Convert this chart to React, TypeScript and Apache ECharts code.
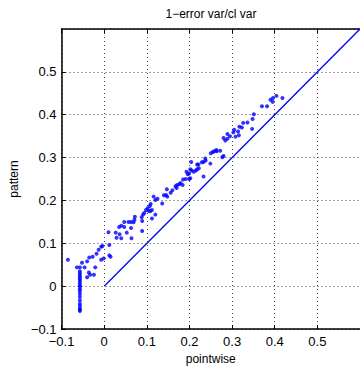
import { useEffect, useRef } from "react";
import * as echarts from "echarts";

// Axis range shared by both axes
const AXIS_MIN = -0.1;
const AXIS_MAX = 0.6;
const TICK_STEP = 0.1;

// Titles
const TITLE = "1\u2212error var/cl var";
const X_NAME = "pointwise";
const Y_NAME = "pattern";

// Stack of points sitting at a single pointwise value
const columnX = -0.057;
const columnY = [
  0.044, 0.035, 0.03, 0.025, 0.021, 0.016, 0.012, 0.007, 0.002, -0.002,
  -0.007, -0.012, -0.018, -0.025, -0.033, -0.041, -0.046, -0.052, -0.055,
  -0.058,
];

// Remaining (pointwise, pattern) pairs
const scatterPoints: [number, number][] = [
  [-0.085, 0.062], [-0.064, 0.044], [-0.052, 0.055], [-0.046, 0.044],
  [-0.04, 0.058], [-0.035, 0.067], [-0.027, 0.069], [-0.021, 0.044],
  [-0.036, 0.032], [-0.033, 0.027], [-0.04, 0.021], [-0.024, 0.027],
  [-0.018, 0.076], [-0.013, 0.085], [-0.007, 0.092], [-0.004, 0.094],
  [-0.007, 0.062], [-0.001, 0.065], [0.012, 0.072], [0.015, 0.069],
  [0.012, 0.096], [0.01, 0.126], [0.027, 0.125], [0.029, 0.113],
  [0.036, 0.121], [0.04, 0.112], [0.035, 0.138], [0.04, 0.141],
  [0.047, 0.138], [0.053, 0.125], [0.047, 0.15], [0.057, 0.15],
  [0.063, 0.15], [0.069, 0.149], [0.071, 0.155], [0.072, 0.162],
  [0.063, 0.136], [0.064, 0.112], [0.088, 0.161], [0.089, 0.152],
  [0.089, 0.129], [0.094, 0.171], [0.102, 0.182], [0.108, 0.175],
  [0.091, 0.167], [0.098, 0.178], [0.104, 0.176], [0.107, 0.187],
  [0.109, 0.192], [0.116, 0.209], [0.12, 0.201], [0.125, 0.204],
  [0.112, 0.178], [0.12, 0.167], [0.112, 0.158], [0.136, 0.193],
  [0.14, 0.212], [0.145, 0.213], [0.147, 0.226], [0.148, 0.209],
  [0.156, 0.218], [0.16, 0.224], [0.167, 0.233], [0.171, 0.236],
  [0.17, 0.229], [0.176, 0.238], [0.179, 0.241], [0.184, 0.236],
  [0.185, 0.249], [0.191, 0.25], [0.193, 0.267], [0.196, 0.261],
  [0.199, 0.263], [0.199, 0.25], [0.202, 0.252], [0.202, 0.273],
  [0.205, 0.27], [0.21, 0.267], [0.215, 0.27], [0.218, 0.273],
  [0.222, 0.275], [0.218, 0.284], [0.221, 0.284], [0.233, 0.256],
  [0.204, 0.29], [0.229, 0.289], [0.233, 0.29], [0.238, 0.293],
  [0.237, 0.298], [0.249, 0.286], [0.25, 0.31], [0.255, 0.313],
  [0.258, 0.315], [0.263, 0.318], [0.264, 0.315], [0.272, 0.316],
  [0.277, 0.301], [0.28, 0.304], [0.28, 0.346], [0.284, 0.34],
  [0.289, 0.344], [0.295, 0.35], [0.289, 0.355], [0.303, 0.359],
  [0.305, 0.365], [0.308, 0.349], [0.314, 0.361], [0.317, 0.372],
  [0.316, 0.352], [0.323, 0.37], [0.326, 0.381], [0.336, 0.382],
  [0.347, 0.367], [0.348, 0.39], [0.351, 0.401], [0.37, 0.42],
  [0.382, 0.42], [0.39, 0.435], [0.395, 0.43], [0.396, 0.439],
  [0.404, 0.444], [0.418, 0.439],
];

// Reference line pattern = pointwise
const diagonal: [number, number][] = [
  [0, 0],
  [0.6, 0.6],
];

const FONT = "'Liberation Sans', Arial, Helvetica, sans-serif";
const BLUE = "#0000ff";

const fmtTick = (v: number): string => {
  const r = Math.round(v * 10) / 10;
  if (r === 0) return "0";
  return (r < 0 ? "\u2212" : "") + String(Math.abs(r));
};

const gridLine = {
  show: true,
  lineStyle: { color: "#444", width: 1, type: [1, 3] as number[] },
};

const axisBase = {
  type: "value" as const,
  min: AXIS_MIN,
  max: AXIS_MAX,
  interval: TICK_STEP,
  axisLine: { show: true, onZero: false, lineStyle: { color: "#000", width: 1.5 } },
  axisTick: { show: true, inside: true, length: 4, lineStyle: { color: "#000", width: 1 } },
};

export default function App() {
  const ref = useRef<HTMLDivElement>(null);

  useEffect(() => {
    if (!ref.current) return;
    const chart = echarts.init(ref.current, undefined, { renderer: "svg" });

    const allPoints: [number, number][] = [
      ...columnY.map((y) => [columnX, y] as [number, number]),
      ...scatterPoints,
    ];

    chart.setOption({
      animation: false,
      backgroundColor: "#fff",
      textStyle: { fontFamily: FONT },
      grid: { left: 60, top: 29, width: 302, height: 303, containLabel: false },
      graphic: [
        {
          type: "text",
          x: 211,
          y: 14,
          style: {
            text: TITLE,
            fontFamily: FONT,
            fontSize: 12,
            fill: "#000",
            textAlign: "center",
            textVerticalAlign: "middle",
          },
        },
      ],
      xAxis: [
        {
          ...axisBase,
          position: "bottom",
          name: X_NAME,
          nameLocation: "middle",
          nameGap: 21,
          nameTextStyle: { fontFamily: FONT, fontSize: 12, color: "#000" },
          axisLabel: {
            show: true,
            showMaxLabel: false,
            margin: 6,
            fontFamily: FONT,
            fontSize: 13,
            color: "#000",
            formatter: fmtTick,
          },
          splitLine: gridLine,
        },
        {
          ...axisBase,
          position: "top",
          axisLabel: { show: false },
          splitLine: { show: false },
        },
      ],
      yAxis: [
        {
          ...axisBase,
          position: "left",
          name: Y_NAME,
          nameLocation: "middle",
          nameGap: 38,
          nameRotate: 90,
          nameTextStyle: { fontFamily: FONT, fontSize: 12, color: "#000" },
          axisLabel: {
            show: true,
            showMaxLabel: false,
            margin: 5,
            fontFamily: FONT,
            fontSize: 13,
            color: "#000",
            formatter: fmtTick,
          },
          splitLine: gridLine,
        },
      ],
      series: [
        {
          type: "line",
          xAxisIndex: 0,
          yAxisIndex: 0,
          data: diagonal,
          symbol: "none",
          lineStyle: { color: BLUE, width: 1.3 },
          silent: true,
          z: 2,
        },
        {
          type: "scatter",
          xAxisIndex: 0,
          yAxisIndex: 0,
          data: allPoints,
          symbol: "circle",
          symbolSize: 4,
          itemStyle: { color: BLUE },
          z: 3,
        },
      ],
    });

    return () => chart.dispose();
  }, []);

  return (
    <div
      ref={ref}
      style={{ position: "absolute", left: 0, top: 0, width: 360, height: 370 }}
    />
  );
}
